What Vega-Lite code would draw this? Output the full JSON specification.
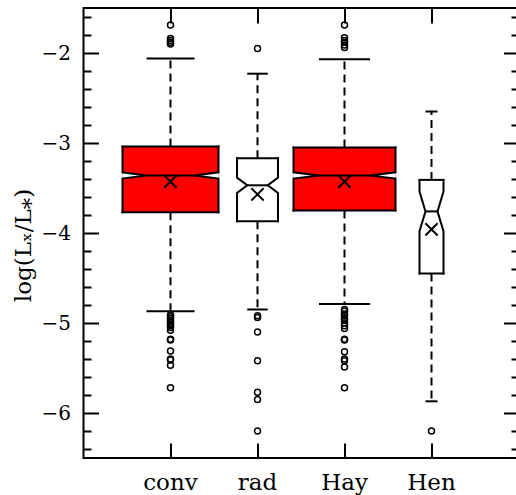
{
  "$schema": "https://vega.github.io/schema/vega-lite/v6.json",
  "width": 435,
  "height": 450,
  "autosize": {"type": "none"},
  "padding": {"left": 83.5, "top": 8, "right": 0, "bottom": 37},
  "background": "white",
  "config": {
    "view": {"stroke": "black", "strokeWidth": 2},
    "axis": {"domain": false, "grid": false, "labelFont": "DejaVu Serif", "labelFontSize": 20, "labelColor": "black", "tickColor": "black", "tickWidth": 2, "titleFont": "DejaVu Serif", "titleFontSize": 23, "titleFontWeight": "normal", "titleColor": "black"}
  },
  "datasets": {
    "boxes": [
      {"group": "conv", "q1": -3.77, "nlo": -3.395, "med": -3.36, "nhi": -3.325, "q3": -3.04, "lo": -4.87, "hi": -2.06, "mean": -3.43},
      {"group": "rad", "q1": -3.87, "nlo": -3.555, "med": -3.47, "nhi": -3.385, "q3": -3.17, "lo": -4.85, "hi": -2.23, "mean": -3.57},
      {"group": "Hay", "q1": -3.75, "nlo": -3.395, "med": -3.36, "nhi": -3.325, "q3": -3.05, "lo": -4.79, "hi": -2.07, "mean": -3.43},
      {"group": "Hen", "q1": -4.45, "nlo": -3.98, "med": -3.76, "nhi": -3.54, "q3": -3.41, "lo": -5.87, "hi": -2.65, "mean": -3.96}
    ],
    "outliers": [
      {"group": "conv", "value": -1.69}, {"group": "conv", "value": -1.84}, {"group": "conv", "value": -1.86}, {"group": "conv", "value": -1.88}, {"group": "conv", "value": -1.90},
      {"group": "conv", "value": -4.91}, {"group": "conv", "value": -4.93}, {"group": "conv", "value": -4.95}, {"group": "conv", "value": -4.97}, {"group": "conv", "value": -4.99},
      {"group": "conv", "value": -5.01}, {"group": "conv", "value": -5.03}, {"group": "conv", "value": -5.05}, {"group": "conv", "value": -5.08}, {"group": "conv", "value": -5.18},
      {"group": "conv", "value": -5.19}, {"group": "conv", "value": -5.31}, {"group": "conv", "value": -5.40}, {"group": "conv", "value": -5.41}, {"group": "conv", "value": -5.47},
      {"group": "conv", "value": -5.72},
      {"group": "rad", "value": -1.95}, {"group": "rad", "value": -4.92}, {"group": "rad", "value": -4.94}, {"group": "rad", "value": -5.10}, {"group": "rad", "value": -5.42},
      {"group": "rad", "value": -5.77}, {"group": "rad", "value": -5.85}, {"group": "rad", "value": -6.20},
      {"group": "Hay", "value": -1.69}, {"group": "Hay", "value": -1.83}, {"group": "Hay", "value": -1.86}, {"group": "Hay", "value": -1.88}, {"group": "Hay", "value": -1.91}, {"group": "Hay", "value": -1.94},
      {"group": "Hay", "value": -4.85}, {"group": "Hay", "value": -4.87}, {"group": "Hay", "value": -4.90}, {"group": "Hay", "value": -4.92}, {"group": "Hay", "value": -4.95},
      {"group": "Hay", "value": -4.97}, {"group": "Hay", "value": -5.00}, {"group": "Hay", "value": -5.03}, {"group": "Hay", "value": -5.06}, {"group": "Hay", "value": -5.18},
      {"group": "Hay", "value": -5.19}, {"group": "Hay", "value": -5.32}, {"group": "Hay", "value": -5.40}, {"group": "Hay", "value": -5.42}, {"group": "Hay", "value": -5.49},
      {"group": "Hay", "value": -5.72},
      {"group": "Hen", "value": -6.20}
    ]
  },
  "resolve": {"scale": {"xOffset": "independent"}, "axis": {"x": "independent", "y": "independent"}},
  "layer": [
    {
      "data": {"name": "boxes"},
      "mark": {"type": "rule", "strokeDash": [8, 5], "strokeWidth": 2, "color": "black"},
      "encoding": {
        "x": {"field": "group", "type": "nominal", "scale": {"type": "band", "domain": ["conv", "rad", "Hay", "Hen"], "paddingInner": 0, "paddingOuter": 0.5}, "axis": {"orient": "bottom", "title": null, "tickSize": -15, "labelPadding": 28, "labelAngle": 0, "labelFontSize": 23}},
        "y": {"field": "q3", "type": "quantitative", "scale": {"domain": [-6.5, -1.5], "nice": false, "zero": false}, "axis": {"orient": "left", "values": [-6, -5, -4, -3, -2], "format": "d", "tickSize": -15, "labelPadding": 28, "title": "log(Lₓ/L⁎)", "titlePadding": 6, "titleY": 237}},
        "y2": {"field": "hi"}
      }
    },
    {
      "data": {"name": "boxes"},
      "mark": {"type": "rule", "strokeDash": [8, 5], "strokeWidth": 2, "color": "black"},
      "encoding": {
        "x": {"field": "group", "type": "nominal", "scale": {"type": "band", "domain": ["conv", "rad", "Hay", "Hen"], "paddingInner": 0, "paddingOuter": 0.5}, "axis": {"orient": "top", "title": null, "tickSize": -15, "labels": false}},
        "y": {"field": "q1", "type": "quantitative", "scale": {"domain": [-6.5, -1.5], "nice": false, "zero": false}, "axis": {"orient": "left", "values": [-6.4, -6.2, -5.8, -5.6, -5.4, -5.2, -4.8, -4.6, -4.4, -4.2, -3.8, -3.6, -3.4, -3.2, -2.8, -2.6, -2.4, -2.2, -1.8, -1.6], "tickSize": -7.5, "labels": false, "title": null}},
        "y2": {"field": "lo"}
      }
    },
    {
      "data": {"name": "boxes"},
      "transform": [{"filter": {"field": "group", "equal": "conv"}}],
      "layer": [
        {"mark": {"type": "bar", "size": 96, "fill": "#ff0000", "strokeWidth": 0},
         "encoding": {"x": {"field": "group", "type": "nominal", "scale": {"type": "band", "domain": ["conv", "rad", "Hay", "Hen"], "paddingInner": 0, "paddingOuter": 0.5}, "axis": null},
                      "y": {"field": "q1", "type": "quantitative", "scale": {"domain": [-6.5, -1.5], "nice": false, "zero": false}, "axis": null}, "y2": {"field": "q3"}}},
        {"transform": [
           {"fold": ["q3", "nhi", "nlo", "q1"], "as": ["ok", "Lo"]},
           {"joinaggregate": [{"op": "min", "field": "Lo", "as": "Ro"}, {"op": "min", "field": "med", "as": "Li"}, {"op": "min", "field": "med", "as": "Ri"}], "groupby": ["group", "ok"]},
           {"fold": ["Lo", "Li", "Ri", "Ro"], "as": ["pos", "yv"]}
         ],
         "encoding": {
           "x": {"field": "group", "type": "nominal", "scale": {"type": "band", "domain": ["conv", "rad", "Hay", "Hen"], "paddingInner": 0, "paddingOuter": 0.5}, "axis": null},
           "xOffset": {"field": "pos", "type": "nominal", "scale": {"type": "point", "domain": ["Lo", "Li", "C", "Ri", "Ro"], "range": [-4.5, 91.5], "padding": 0}},
           "y": {"field": "yv", "type": "quantitative", "scale": {"domain": [-6.5, -1.5], "nice": false, "zero": false}, "axis": null}
         },
         "layer": [
           {"transform": [{"filter": {"field": "pos", "oneOf": ["Lo", "Li"]}}], "mark": {"type": "line", "fill": "white", "stroke": "black", "strokeWidth": 2, "strokeCap": "square"}, "encoding": {"order": {"field": "yv", "type": "quantitative", "sort": "descending"}}},
           {"transform": [{"filter": {"field": "pos", "oneOf": ["Ri", "Ro"]}}], "mark": {"type": "line", "fill": "white", "stroke": "black", "strokeWidth": 2, "strokeCap": "square"}, "encoding": {"order": {"field": "yv", "type": "quantitative", "sort": "descending"}}},
           {"transform": [{"filter": {"field": "pos", "oneOf": ["Lo", "Ro"]}}, {"filter": {"field": "ok", "oneOf": ["q3", "q1"]}}], "mark": {"type": "line", "stroke": "black", "strokeWidth": 2, "strokeCap": "square"}, "encoding": {"detail": {"field": "ok", "type": "nominal"}, "order": {"field": "pos", "type": "ordinal"}}},
           {"transform": [{"filter": {"field": "pos", "oneOf": ["Li", "Ri"]}}, {"filter": {"field": "ok", "equal": "q3"}}], "mark": {"type": "line", "stroke": "black", "strokeWidth": 2}, "encoding": {"order": {"field": "pos", "type": "ordinal"}}}
         ]
        },
        {"transform": [{"fold": ["hi", "lo"], "as": ["cap", "capv"]}],
         "mark": {"type": "tick", "size": 48, "thickness": 2, "color": "black", "opacity": 1},
         "encoding": {"x": {"field": "group", "type": "nominal", "scale": {"type": "band", "domain": ["conv", "rad", "Hay", "Hen"], "paddingInner": 0, "paddingOuter": 0.5}, "axis": null},
                      "y": {"field": "capv", "type": "quantitative", "scale": {"domain": [-6.5, -1.5], "nice": false, "zero": false}, "axis": null}, "detail": {"field": "cap", "type": "nominal"}}}
      ]
    },
    {
      "data": {"name": "boxes"},
      "transform": [{"filter": {"field": "group", "equal": "rad"}}],
      "layer": [
        {"mark": {"type": "bar", "size": 41, "fill": "white", "strokeWidth": 0},
         "encoding": {"x": {"field": "group", "type": "nominal", "scale": {"type": "band", "domain": ["conv", "rad", "Hay", "Hen"], "paddingInner": 0, "paddingOuter": 0.5}, "axis": null},
                      "y": {"field": "q1", "type": "quantitative", "scale": {"domain": [-6.5, -1.5], "nice": false, "zero": false}, "axis": null}, "y2": {"field": "q3"}}},
        {"transform": [
           {"fold": ["q3", "nhi", "nlo", "q1"], "as": ["ok", "Lo"]},
           {"joinaggregate": [{"op": "min", "field": "Lo", "as": "Ro"}, {"op": "min", "field": "med", "as": "Li"}, {"op": "min", "field": "med", "as": "Ri"}], "groupby": ["group", "ok"]},
           {"fold": ["Lo", "Li", "Ri", "Ro"], "as": ["pos", "yv"]}
         ],
         "encoding": {
           "x": {"field": "group", "type": "nominal", "scale": {"type": "band", "domain": ["conv", "rad", "Hay", "Hen"], "paddingInner": 0, "paddingOuter": 0.5}, "axis": null},
           "xOffset": {"field": "pos", "type": "nominal", "scale": {"type": "point", "domain": ["Lo", "Li", "C", "Ri", "Ro"], "range": [23, 64], "padding": 0}},
           "y": {"field": "yv", "type": "quantitative", "scale": {"domain": [-6.5, -1.5], "nice": false, "zero": false}, "axis": null}
         },
         "layer": [
           {"transform": [{"filter": {"field": "pos", "oneOf": ["Lo", "Li"]}}], "mark": {"type": "line", "fill": "white", "stroke": "black", "strokeWidth": 2, "strokeCap": "square"}, "encoding": {"order": {"field": "yv", "type": "quantitative", "sort": "descending"}}},
           {"transform": [{"filter": {"field": "pos", "oneOf": ["Ri", "Ro"]}}], "mark": {"type": "line", "fill": "white", "stroke": "black", "strokeWidth": 2, "strokeCap": "square"}, "encoding": {"order": {"field": "yv", "type": "quantitative", "sort": "descending"}}},
           {"transform": [{"filter": {"field": "pos", "oneOf": ["Lo", "Ro"]}}, {"filter": {"field": "ok", "oneOf": ["q3", "q1"]}}], "mark": {"type": "line", "stroke": "black", "strokeWidth": 2, "strokeCap": "square"}, "encoding": {"detail": {"field": "ok", "type": "nominal"}, "order": {"field": "pos", "type": "ordinal"}}},
           {"transform": [{"filter": {"field": "pos", "oneOf": ["Li", "Ri"]}}, {"filter": {"field": "ok", "equal": "q3"}}], "mark": {"type": "line", "stroke": "black", "strokeWidth": 2}, "encoding": {"order": {"field": "pos", "type": "ordinal"}}}
         ]
        },
        {"transform": [{"fold": ["hi", "lo"], "as": ["cap", "capv"]}],
         "mark": {"type": "tick", "size": 20.5, "thickness": 2, "color": "black", "opacity": 1},
         "encoding": {"x": {"field": "group", "type": "nominal", "scale": {"type": "band", "domain": ["conv", "rad", "Hay", "Hen"], "paddingInner": 0, "paddingOuter": 0.5}, "axis": null},
                      "y": {"field": "capv", "type": "quantitative", "scale": {"domain": [-6.5, -1.5], "nice": false, "zero": false}, "axis": null}, "detail": {"field": "cap", "type": "nominal"}}}
      ]
    },
    {
      "data": {"name": "boxes"},
      "transform": [{"filter": {"field": "group", "equal": "Hay"}}],
      "layer": [
        {"mark": {"type": "bar", "size": 102, "fill": "#ff0000", "strokeWidth": 0},
         "encoding": {"x": {"field": "group", "type": "nominal", "scale": {"type": "band", "domain": ["conv", "rad", "Hay", "Hen"], "paddingInner": 0, "paddingOuter": 0.5}, "axis": null},
                      "y": {"field": "q1", "type": "quantitative", "scale": {"domain": [-6.5, -1.5], "nice": false, "zero": false}, "axis": null}, "y2": {"field": "q3"}}},
        {"transform": [
           {"fold": ["q3", "nhi", "nlo", "q1"], "as": ["ok", "Lo"]},
           {"joinaggregate": [{"op": "min", "field": "Lo", "as": "Ro"}, {"op": "min", "field": "med", "as": "Li"}, {"op": "min", "field": "med", "as": "Ri"}], "groupby": ["group", "ok"]},
           {"fold": ["Lo", "Li", "Ri", "Ro"], "as": ["pos", "yv"]}
         ],
         "encoding": {
           "x": {"field": "group", "type": "nominal", "scale": {"type": "band", "domain": ["conv", "rad", "Hay", "Hen"], "paddingInner": 0, "paddingOuter": 0.5}, "axis": null},
           "xOffset": {"field": "pos", "type": "nominal", "scale": {"type": "point", "domain": ["Lo", "Li", "C", "Ri", "Ro"], "range": [-7.5, 94.5], "padding": 0}},
           "y": {"field": "yv", "type": "quantitative", "scale": {"domain": [-6.5, -1.5], "nice": false, "zero": false}, "axis": null}
         },
         "layer": [
           {"transform": [{"filter": {"field": "pos", "oneOf": ["Lo", "Li"]}}], "mark": {"type": "line", "fill": "white", "stroke": "black", "strokeWidth": 2, "strokeCap": "square"}, "encoding": {"order": {"field": "yv", "type": "quantitative", "sort": "descending"}}},
           {"transform": [{"filter": {"field": "pos", "oneOf": ["Ri", "Ro"]}}], "mark": {"type": "line", "fill": "white", "stroke": "black", "strokeWidth": 2, "strokeCap": "square"}, "encoding": {"order": {"field": "yv", "type": "quantitative", "sort": "descending"}}},
           {"transform": [{"filter": {"field": "pos", "oneOf": ["Lo", "Ro"]}}, {"filter": {"field": "ok", "oneOf": ["q3", "q1"]}}], "mark": {"type": "line", "stroke": "black", "strokeWidth": 2, "strokeCap": "square"}, "encoding": {"detail": {"field": "ok", "type": "nominal"}, "order": {"field": "pos", "type": "ordinal"}}},
           {"transform": [{"filter": {"field": "pos", "oneOf": ["Li", "Ri"]}}, {"filter": {"field": "ok", "equal": "q3"}}], "mark": {"type": "line", "stroke": "black", "strokeWidth": 2}, "encoding": {"order": {"field": "pos", "type": "ordinal"}}}
         ]
        },
        {"transform": [{"fold": ["hi", "lo"], "as": ["cap", "capv"]}],
         "mark": {"type": "tick", "size": 51, "thickness": 2, "color": "black", "opacity": 1},
         "encoding": {"x": {"field": "group", "type": "nominal", "scale": {"type": "band", "domain": ["conv", "rad", "Hay", "Hen"], "paddingInner": 0, "paddingOuter": 0.5}, "axis": null},
                      "y": {"field": "capv", "type": "quantitative", "scale": {"domain": [-6.5, -1.5], "nice": false, "zero": false}, "axis": null}, "detail": {"field": "cap", "type": "nominal"}}}
      ]
    },
    {
      "data": {"name": "boxes"},
      "transform": [{"filter": {"field": "group", "equal": "Hen"}}],
      "layer": [
        {"mark": {"type": "bar", "size": 24, "fill": "white", "strokeWidth": 0},
         "encoding": {"x": {"field": "group", "type": "nominal", "scale": {"type": "band", "domain": ["conv", "rad", "Hay", "Hen"], "paddingInner": 0, "paddingOuter": 0.5}, "axis": null},
                      "y": {"field": "q1", "type": "quantitative", "scale": {"domain": [-6.5, -1.5], "nice": false, "zero": false}, "axis": null}, "y2": {"field": "q3"}}},
        {"transform": [
           {"fold": ["q3", "nhi", "nlo", "q1"], "as": ["ok", "Lo"]},
           {"joinaggregate": [{"op": "min", "field": "Lo", "as": "Ro"}, {"op": "min", "field": "med", "as": "Li"}, {"op": "min", "field": "med", "as": "Ri"}], "groupby": ["group", "ok"]},
           {"fold": ["Lo", "Li", "Ri", "Ro"], "as": ["pos", "yv"]}
         ],
         "encoding": {
           "x": {"field": "group", "type": "nominal", "scale": {"type": "band", "domain": ["conv", "rad", "Hay", "Hen"], "paddingInner": 0, "paddingOuter": 0.5}, "axis": null},
           "xOffset": {"field": "pos", "type": "nominal", "scale": {"type": "point", "domain": ["Lo", "Li", "C", "Ri", "Ro"], "range": [31.5, 55.5], "padding": 0}},
           "y": {"field": "yv", "type": "quantitative", "scale": {"domain": [-6.5, -1.5], "nice": false, "zero": false}, "axis": null}
         },
         "layer": [
           {"transform": [{"filter": {"field": "pos", "oneOf": ["Lo", "Li"]}}], "mark": {"type": "line", "fill": "white", "stroke": "black", "strokeWidth": 2, "strokeCap": "square"}, "encoding": {"order": {"field": "yv", "type": "quantitative", "sort": "descending"}}},
           {"transform": [{"filter": {"field": "pos", "oneOf": ["Ri", "Ro"]}}], "mark": {"type": "line", "fill": "white", "stroke": "black", "strokeWidth": 2, "strokeCap": "square"}, "encoding": {"order": {"field": "yv", "type": "quantitative", "sort": "descending"}}},
           {"transform": [{"filter": {"field": "pos", "oneOf": ["Lo", "Ro"]}}, {"filter": {"field": "ok", "oneOf": ["q3", "q1"]}}], "mark": {"type": "line", "stroke": "black", "strokeWidth": 2, "strokeCap": "square"}, "encoding": {"detail": {"field": "ok", "type": "nominal"}, "order": {"field": "pos", "type": "ordinal"}}},
           {"transform": [{"filter": {"field": "pos", "oneOf": ["Li", "Ri"]}}, {"filter": {"field": "ok", "equal": "q3"}}], "mark": {"type": "line", "stroke": "black", "strokeWidth": 2}, "encoding": {"order": {"field": "pos", "type": "ordinal"}}}
         ]
        },
        {"transform": [{"fold": ["hi", "lo"], "as": ["cap", "capv"]}],
         "mark": {"type": "tick", "size": 12, "thickness": 2, "color": "black", "opacity": 1},
         "encoding": {"x": {"field": "group", "type": "nominal", "scale": {"type": "band", "domain": ["conv", "rad", "Hay", "Hen"], "paddingInner": 0, "paddingOuter": 0.5}, "axis": null},
                      "y": {"field": "capv", "type": "quantitative", "scale": {"domain": [-6.5, -1.5], "nice": false, "zero": false}, "axis": null}, "detail": {"field": "cap", "type": "nominal"}}}
      ]
    },
    {
      "data": {"name": "outliers"},
      "mark": {"type": "point", "shape": "circle", "size": 36, "filled": false, "stroke": "black", "strokeWidth": 1.5, "opacity": 1},
      "encoding": {
        "x": {"field": "group", "type": "nominal", "scale": {"type": "band", "domain": ["conv", "rad", "Hay", "Hen"], "paddingInner": 0, "paddingOuter": 0.5}, "axis": null},
        "y": {"field": "value", "type": "quantitative", "scale": {"domain": [-6.5, -1.5], "nice": false, "zero": false}, "axis": {"orient": "right", "values": [-6, -5, -4, -3, -2], "tickSize": -15, "labels": false, "title": null}}
      }
    },
    {
      "data": {"name": "boxes"},
      "mark": {"type": "point", "shape": "M-1,-1L1,1M-1,1L1,-1", "size": 150, "filled": false, "stroke": "black", "strokeWidth": 2, "opacity": 1},
      "encoding": {
        "x": {"field": "group", "type": "nominal", "scale": {"type": "band", "domain": ["conv", "rad", "Hay", "Hen"], "paddingInner": 0, "paddingOuter": 0.5}, "axis": null},
        "y": {"field": "mean", "type": "quantitative", "scale": {"domain": [-6.5, -1.5], "nice": false, "zero": false}, "axis": {"orient": "right", "values": [-6.4, -6.2, -5.8, -5.6, -5.4, -5.2, -4.8, -4.6, -4.4, -4.2, -3.8, -3.6, -3.4, -3.2, -2.8, -2.6, -2.4, -2.2, -1.8, -1.6], "tickSize": -7.5, "labels": false, "title": null}}
      }
    }
  ]
}
